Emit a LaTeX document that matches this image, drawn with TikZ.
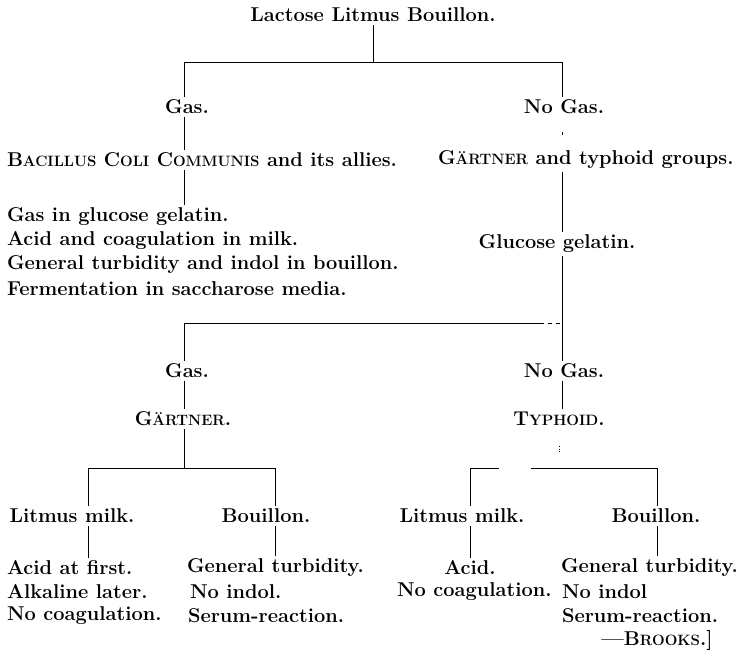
\documentclass[tikz,border=0pt]{standalone}
\newcommand\smc[1]{{\fontsize{15}{18}\selectfont #1}}
\tikzset{
  txt/.style={font=\fontsize{20}{24}\selectfont\bfseries, inner sep=0pt, outer sep=3pt, text=black},
  lst/.style={txt, anchor=west},
  ln/.style={line width=1pt, black},
}
\begin{document}
\begin{tikzpicture}[x=1pt,y=-1pt]
\useasboundingbox (0,0) rectangle (740,656);
% top level
\node[txt] (title) at (373,15) {Lactose Litmus Bouillon.};
\coordinate (t1) at (373,62);
\coordinate (h1L) at (184,62);
\coordinate (h1R) at (562,62);
\node[txt] (gas1) at (187,107) {Gas.};
\node[txt] (nogas1) at (564,107) {No Gas.};
\draw[ln] (title.south) -- (t1);
\draw[ln] (h1L) -- (h1R);
\draw[ln] (h1L) -- (gas1.north -| h1L);
\draw[ln] (h1R) -- (nogas1.north -| h1R);
% second level
\node[lst] (bac) at (4,160) {B\smc{ACILLUS} C\smc{OLI} C\smc{OMMUNIS} and its allies.};
\node[lst] (gtg) at (435,160) {G\smc{ÄRTNER} and typhoid groups.};
\draw[ln] (gas1.south -| h1L) -- (bac.north -| h1L);
\coordinate (d1) at (562,132);
\draw[ln, line width=0.6pt] (d1) -- ++(0,3);
% left list
\node[lst] (l1) at (4,217) {Gas in glucose gelatin.};
\node[lst] (l2) at (4,241) {Acid and coagulation in milk.};
\node[lst] (l3) at (4,265) {General turbidity and indol in bouillon.};
\node[lst] (l4) at (4,289) {Fermentation in saccharose media.};
\draw[ln] (bac.south -| h1L) -- (l1.north -| h1L);
% right
\node[txt] (glu) at (557,244) {Glucose gelatin.};
\draw[ln] (gtg.south -| h1R) -- (glu.north -| h1R);
\coordinate (h2L) at (184,323);
\coordinate (h2M) at (540,323);
\coordinate (h2R) at (562,323);
\draw[ln] (glu.south -| h1R) -- (h2R);
\draw[ln] (h2L) -- (h2M);
\draw[ln, dash pattern=on 4pt off 4pt] (h2M) -- (h2R);
% third level
\node[txt] (gas2) at (187,371) {Gas.};
\node[txt] (nogas2) at (564,371) {No Gas.};
\draw[ln] (h2L) -- (gas2.north -| h2L);
\draw[ln] (h2R) -- (nogas2.north -| h2R);
\node[txt] (gart) at (183,419) {G\smc{ÄRTNER}.};
\node[txt] (typh) at (559,419) {T\smc{YPHOID}.};
\draw[ln] (gas2.south -| h2L) -- (gart.north -| h2L);
\draw[ln] (nogas2.south -| h2R) -- (typh.north -| h2R);
% fourth level
\coordinate (j3) at (184,468);
\coordinate (h3a) at (88,468);
\coordinate (h3b) at (275,468);
\coordinate (h3c) at (470,468);
\coordinate (h3d) at (499,468);
\coordinate (h3e) at (531,468);
\coordinate (h3f) at (657,468);
\coordinate (d2) at (559,446);
\draw[ln] (gart.south -| j3) -- (j3);
\draw[ln] (h3a) -- (h3b);
\draw[ln, line width=0.6pt, dotted] (d2) -- ++(0,6);
\draw[ln] (h3c) -- (h3d);
\draw[ln] (h3e) -- (h3f);
\node[txt] (lm1) at (72,516) {Litmus milk.};
\node[txt] (bo1) at (266,516) {Bouillon.};
\node[txt] (lm2) at (462,516) {Litmus milk.};
\node[txt] (bo2) at (656,516) {Bouillon.};
\draw[ln] (h3a) -- (lm1.north -| h3a);
\draw[ln] (h3b) -- (bo1.north -| h3b);
\draw[ln] (h3c) -- (lm2.north -| h3c);
\draw[ln] (h3f) -- (bo2.north -| h3f);
% bottom lists
\node[lst] (af) at (4,568) {Acid at first.};
\node[lst] (al) at (4,592) {Alkaline later.};
\node[lst] (nc1) at (4,616) {No coagulation.};
\node[lst] (gt1) at (184,568) {General turbidity.};
\node[lst] (ni1) at (187,592) {No indol.};
\node[lst] (sr1) at (185,616) {Serum-reaction.};
\node[txt] (acid) at (470,568) {Acid.};
\node[lst] (nc2) at (394,592) {No coagulation.};
\node[lst] (gt2) at (558,568) {General turbidity.};
\node[lst] (ni2) at (559,592) {No indol};
\node[lst] (sr2) at (559,616) {Serum-reaction.};
\node[txt] (br) at (657,640) {---B\smc{ROOKS}.]};
\draw[ln] (lm1.south -| h3a) -- (af.north -| h3a);
\draw[ln] (bo1.south -| h3b) -- (gt1.north -| h3b);
\draw[ln] (lm2.south -| h3c) -- (acid.north -| h3c);
\draw[ln] (bo2.south -| h3f) -- (gt2.north -| h3f);
\end{tikzpicture}
\end{document}
